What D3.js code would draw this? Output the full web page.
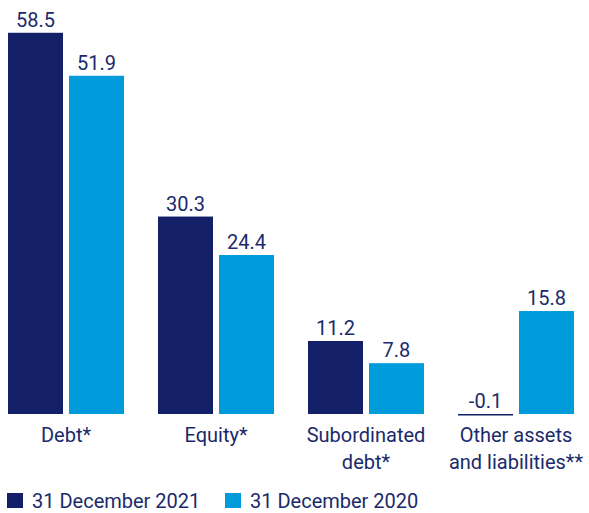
<!DOCTYPE html>
<html>
<head>
<meta charset="utf-8">
<style>
  body { margin: 0; background: #fff; font-family: Roboto, sans-serif; }
  svg text { font-family: Roboto, sans-serif; fill: #1b2a6b; }
</style>
</head>
<body>
<div id="chart"></div>
<script src="https://cdn.jsdelivr.net/npm/d3@7"></script>
<script>
// categories and series values
var categories = ["Debt*", "Equity*", "Subordinated\ndebt*", "Other assets\nand liabilities**"];
var seriesNames = ["31 December 2021", "31 December 2020"];
var values2021 = [58.5, 30.3, 11.2, -0.1];
var values2020 = [51.9, 24.4, 7.8, 15.8];
var colors = ["#131f66", "#009bdb"];

var width = 589, height = 513;

var svg = d3.select("#chart").append("svg")
    .attr("width", width)
    .attr("height", height);

// group scale
var x0 = d3.scaleBand()
    .domain(categories)
    .range([-9, 591]);

// bars inside a group
var x1 = d3.scaleBand()
    .domain(seriesNames)
    .range([17, 133])
    .paddingInner(6 / 61);

var y = d3.scaleLinear()
    .domain([0, 60])
    .range([414, 23]);

var rows = categories.map(function(c, i) {
    return { cat: c, vals: [values2021[i], values2020[i]] };
});

var groups = svg.selectAll(".grp")
    .data(rows)
    .enter().append("g")
    .attr("class", "grp")
    .attr("transform", function(d) { return "translate(" + x0(d.cat) + ",0)"; });

var bars = groups.selectAll("g.bar")
    .data(function(d) {
        return d.vals.map(function(v, j) { return { name: seriesNames[j], v: v, j: j }; });
    })
    .enter().append("g")
    .attr("class", "bar");

bars.append("rect")
    .attr("x", function(d) { return x1(d.name); })
    .attr("width", x1.bandwidth())
    .attr("y", function(d) { return d.v >= 0 ? y(d.v) : y(0); })
    .attr("height", function(d) {
        var h = Math.abs(y(d.v) - y(0));
        return d.v < 0 ? Math.max(h, 1.5) : h;
    })
    .attr("fill", function(d) { return colors[d.j]; });

bars.append("text")
    .attr("x", function(d) { return x1(d.name) + x1.bandwidth() / 2; })
    .attr("y", function(d) { return Math.min(y(d.v), y(0)) - 6; })
    .attr("text-anchor", "middle")
    .style("font-size", "20px")
    .text(function(d) { return d.v.toFixed(1); });

// category labels
var labels = svg.selectAll(".cat")
    .data(categories)
    .enter().append("text")
    .attr("class", "cat")
    .attr("text-anchor", "middle")
    .attr("x", function(d) { return x0(d) + x0.bandwidth() / 2; })
    .attr("y", 442)
    .style("font-size", "20px");

labels.selectAll("tspan")
    .data(function(d) { return d.split("\n"); })
    .enter().append("tspan")
    .attr("x", function() { return d3.select(this.parentNode).attr("x"); })
    .attr("dy", function(d, i) { return i === 0 ? 0 : 27; })
    .text(function(d) { return d; });

// legend
var legendX = [7, 225];
var legend = svg.selectAll(".leg")
    .data(seriesNames)
    .enter().append("g")
    .attr("class", "leg")
    .attr("transform", function(d, i) { return "translate(" + legendX[i] + ",493)"; });

legend.append("rect")
    .attr("width", 16)
    .attr("height", 15)
    .attr("fill", function(d, i) { return colors[i]; });

legend.append("text")
    .attr("x", 25)
    .attr("y", 15)
    .style("font-size", "20px")
    .text(function(d) { return d; });
</script>
</body>
</html>
